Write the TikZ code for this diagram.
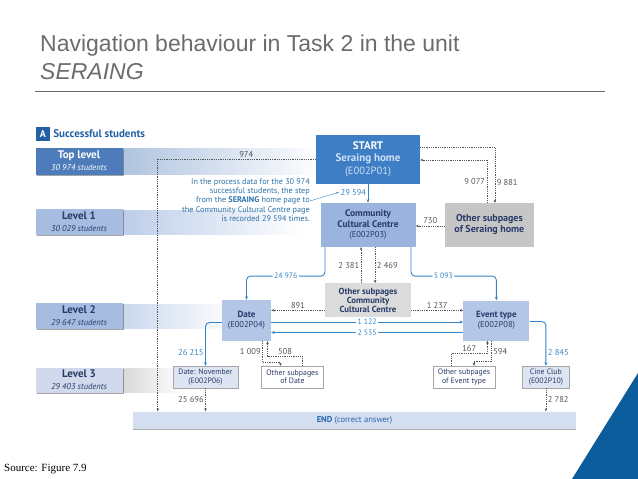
\documentclass[tikz,border=0pt]{standalone}
\usepackage{fontspec}
\setsansfont{PT Sans}
\newfontfamily\titlefont{Liberation Sans}
\newfontfamily\sourcefont{Liberation Serif}
\usepackage{tikz}
\usetikzlibrary{arrows.meta,positioning,calc,shadows}
\definecolor{navy}{RGB}{36,96,166}
\definecolor{startblue}{RGB}{62,126,196}
\definecolor{startsub}{RGB}{206,224,246}
\definecolor{lvltop}{RGB}{78,124,186}
\definecolor{lvlmid}{RGB}{166,188,225}
\definecolor{lvllow}{RGB}{208,218,236}
\definecolor{cccblue}{RGB}{155,180,222}
\definecolor{pageblue}{RGB}{180,198,230}
\definecolor{leafblue}{RGB}{221,229,242}
\definecolor{subgray}{RGB}{198,198,198}
\definecolor{paleg}{RGB}{219,219,219}
\definecolor{pagetext}{RGB}{40,58,104}
\definecolor{linkblue}{RGB}{52,134,200}
\definecolor{numgray}{RGB}{85,85,85}
\definecolor{titlegray}{RGB}{108,108,108}
\definecolor{endfill}{RGB}{211,223,240}
\definecolor{endtext}{RGB}{40,100,172}
\definecolor{cornerblue}{RGB}{10,92,155}
\newcommand\pgcode[1]{{\mdseries\fontsize{8.5}{9.5}\selectfont #1}}
\tikzset{
  lvl/.style={align=center, inner sep=1pt, minimum width=87pt, text=pagetext,
    drop shadow={shadow xshift=1.3pt, shadow yshift=-1.3pt, opacity=0.5, fill=black!70}},
  pagebox/.style={align=center, inner sep=1pt, text=pagetext,
    font=\sffamily\bfseries\fontsize{9.5}{10.5}\selectfont},
  leaf/.style={align=center, inner sep=1pt, text=pagetext, draw=gray!70, line width=0.4pt,
    minimum height=22pt, font=\sffamily\fontsize{7.8}{8.4}\selectfont},
  note/.style={align=right, inner sep=0pt, text=linkblue!85!black,
    font=\sffamily\fontsize{8.2}{9.2}\selectfont},
  flow/.style={draw=linkblue, line width=0.9pt, rounded corners=4pt, -{Stealth[length=3.5pt,width=3pt]}},
  dotflow/.style={draw=numgray, line width=0.7pt, dash pattern=on 0.9pt off 0.9pt,
    -{Stealth[length=3pt,width=2.6pt]}},
  noteline/.style={draw=linkblue, line width=0.4pt, -{Stealth[length=2.5pt,width=2pt]}},
  num/.style={font=\sffamily\fontsize{8.5}{9}\selectfont, text=numgray, inner sep=1.5pt},
  bnum/.style={num, text=linkblue},
  gapnum/.style={bnum, fill=white, inner xsep=1.5pt, inner ysep=0pt, font=\sffamily\fontsize{7.8}{8}\selectfont}
}
\begin{document}
\begin{tikzpicture}[x=1pt, y=-1pt, font=\sffamily]
  \useasboundingbox (0,0) rectangle (638,479);
  % slide
  \node[anchor=base west, inner sep=0, text=titlegray, font=\titlefont\fontsize{23}{26}\selectfont] (title) at (40,51) {Navigation behaviour in Task 2 in the unit};
  \node[anchor=base west, inner sep=0, text=titlegray, font=\titlefont\itshape\fontsize{23}{26}\selectfont] (unit) at (40,79) {SERAING};
  \draw[titlegray, line width=0.8pt] (35,91) -- (605,91);
  \fill[cornerblue] (638,373) -- (638,479) -- (572,479) -- cycle;
  \node[anchor=base west, inner sep=0, font=\sourcefont\fontsize{11}{12}\selectfont] (source) at (4,471) {Source: Figure 7.9};

  % level bands
  \shade[left color=lvltop!45, right color=white] (122,148) rectangle (322,174);
  \shade[left color=lvlmid!75, right color=white] (122,210) rectangle (305,234);
  \shade[left color=lvlmid!60, right color=white] (122,304) rectangle (235,328);
  \shade[left color=gray!30, right color=white] (122,368) rectangle (185,392);

  \node[fill=navy, text=white, font=\sffamily\bfseries\fontsize{10}{10}\selectfont, minimum size=14pt, inner sep=0] (abox) at (43,134) {A};
  \node[right=3pt of abox, inner sep=0, text=navy, font=\sffamily\bfseries\fontsize{11}{12}\selectfont] (ahead) {Successful students};

  \node[lvl, fill=lvltop, text=white, minimum height=27pt] (toplvl) at (79,161) {{\bfseries\fontsize{11}{11.5}\selectfont Top level}\\{\itshape\fontsize{8.5}{9}\selectfont 30 974 students}};
  \node[lvl, fill=lvlmid, minimum height=26pt] (lvl1) at (79,222) {{\bfseries\fontsize{11}{11.5}\selectfont Level 1}\\{\itshape\fontsize{8.5}{9}\selectfont 30 029 students}};
  \node[lvl, fill=lvlmid, minimum height=26pt] (lvl2) at (79,316) {{\bfseries\fontsize{11}{11.5}\selectfont Level 2}\\{\itshape\fontsize{8.5}{9}\selectfont 29 647 students}};
  \node[lvl, fill=lvllow, minimum height=25pt] (lvl3) at (79,380) {{\bfseries\fontsize{11}{11.5}\selectfont Level 3}\\{\itshape\fontsize{8.5}{9}\selectfont 29 403 students}};

  % pages
  \node[pagebox, fill=startblue, text=white, minimum width=104pt, minimum height=49pt, font=\sffamily\bfseries\fontsize{11}{12.5}\selectfont] (start) at (368,159) {START\\\textcolor{startsub}{Seraing home}\\\textcolor{startsub}{{\mdseries\fontsize{10.5}{12}\selectfont (E002P01)}}};
  \node[pagebox, fill=cccblue, below=19pt of start, minimum width=95pt, minimum height=44pt] (ccc) {Community\\Cultural Centre\\\pgcode{(E002P03)}};
  \node[pagebox, fill=subgray, right=29pt of ccc, minimum width=89pt, minimum height=44pt, font=\sffamily\bfseries\fontsize{10}{11}\selectfont] (othsh) {Other subpages\\of Seraing home};
  \node[pagebox, fill=paleg, below=36pt of ccc, minimum width=86pt, minimum height=34pt, font=\sffamily\bfseries\fontsize{8.8}{9.3}\selectfont] (othccc) {Other subpages\\Community\\Cultural Centre};
  \node[pagebox, fill=pageblue, minimum width=49pt, minimum height=41pt, font=\sffamily\bfseries\fontsize{9}{10}\selectfont] (date) at (246.5,320.5) {Date\\\pgcode{(E002P04)}};
  \node[pagebox, fill=pageblue, right=192pt of date, minimum width=66pt, minimum height=40pt, font=\sffamily\bfseries\fontsize{9}{10}\selectfont] (event) {Event type\\\pgcode{(E002P08)}};
  \node[leaf, fill=leafblue, minimum width=65pt] (datenov) at (205.5,377) {Date: November\\(E002P06)};
  \node[leaf, fill=white, right=23pt of datenov, minimum width=62pt] (othdate) {Other subpages\\of Date};
  \node[leaf, fill=white, minimum width=62pt] (othevent) at (464,377) {Other subpages\\of Event type};
  \node[leaf, fill=leafblue, right=27pt of othevent, minimum width=47pt] (cine) {Cine Club\\(E002P10)};
  \node[fill=endfill, minimum width=443pt, minimum height=17pt, inner sep=0, text=endtext, font=\sffamily\fontsize{8.5}{9}\selectfont,
    drop shadow={shadow xshift=0pt, shadow yshift=-1.5pt, opacity=0.45, fill=black!70}] (endbar) at (354.5,420) {\textbf{END} (correct answer)};

  \node[note, anchor=east] (note) at (310,200) {In the process data for the 30 974\\successful students, the step\\from the \textbf{SERAING} home page to\\the Community Cultural Centre page\\is recorded 29 594 times.};

  % moves
  \draw[dotflow] (start.west) -| node[num, above, pos=0.22] {974} ([xshift=25pt]endbar.north west);
  \draw[flow] (start) -- node[bnum, left, pos=0.45] (n29594) {29 594} (ccc);
  \draw[noteline] ([yshift=-1pt]note.east) -- (n29594.west);
  \draw[dotflow] ([yshift=11.5pt]start.east) -| node[num, right, pos=0.82] {9 881} ([xshift=5.5pt]othsh.north);
  \draw[dotflow] ([xshift=-2.5pt]othsh.north) |- node[num, left, pos=0.25] {9 077} ([yshift=-1pt]start.east);
  \draw[dotflow] ([yshift=-1pt]othsh.west) -- node[num, above] {730} ([yshift=-1pt]othsh.west -| ccc.east);

  \draw[flow] ([xshift=-43pt]ccc.south) -- ++(0,29) -| node[gapnum, pos=0.25] {24 976} (date.north);
  \draw[flow] ([xshift=43pt]ccc.south) -- ++(0,29) -| node[gapnum, pos=0.19] {5 093} (event.north);
  \draw[dotflow] ([xshift=-7pt]othccc.north) -- node[num, left] {2 381} ([xshift=-7pt]othccc.north |- ccc.south);
  \draw[dotflow] ([xshift=7pt]othccc.north |- ccc.south) -- node[num, right] {2 469} ([xshift=7pt]othccc.north);
  \draw[dotflow] ([yshift=-10pt]othccc.west) -- node[num, above] {891} ([yshift=-10pt]othccc.west -| date.east);
  \draw[dotflow] ([yshift=-10pt]othccc.east) -- node[num, above] {1 237} ([yshift=-10pt]othccc.east -| event.west);

  \draw[flow] ([yshift=-1.5pt]date.east) -- node[gapnum] {1 122} ([yshift=-1.5pt]date.east -| event.west);
  \draw[flow] ([yshift=-12pt]event.west) -- node[gapnum] {2 535} ([yshift=-12pt]event.west -| date.east);

  \draw[flow] ([yshift=-2pt]date.west) -| node[bnum, left, pos=0.85] {26 215} (datenov.north);
  \draw[dotflow] ([xshift=16pt]date.south) -- node[num, left] {1 009} ++(0,21) -| ([xshift=-12pt]othdate.north);
  \draw[dotflow] ([xshift=10pt]othdate.north) -- ++(0,-9) -| node[num, above, pos=0.25] {508} ([xshift=21pt]date.south);
  \draw[dotflow] ([xshift=-13pt]othevent.north) -- ++(0,-12) -| node[num, above, pos=0.25] {167} ([xshift=-9pt]event.south);
  \draw[dotflow] ([xshift=-5pt]event.south) -- node[num, right] {594} ++(0,21) -| ([xshift=10pt]othevent.north);
  \draw[flow] ([yshift=-1pt]event.east) -| node[bnum, right, pos=0.85] {2 845} (cine.north);

  \draw[dotflow] (datenov.south) -- node[num, left] {25 696} (datenov.south |- endbar.north);
  \draw[dotflow] (cine.south) -- node[num, right] {2 782} (cine.south |- endbar.north);
\end{tikzpicture}
\end{document}
